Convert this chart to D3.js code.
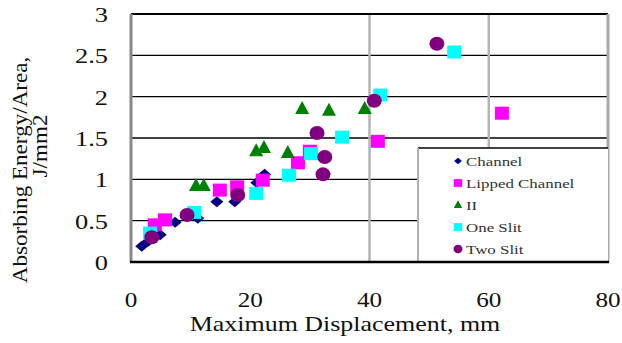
<!DOCTYPE html>
<html>
<head>
<meta charset="utf-8">
<script src="https://cdn.jsdelivr.net/npm/d3@7"></script>
<style>
  body { margin: 0; background: #fff; }
  svg text { font-family: 'Liberation Serif', 'Times New Roman', Times, serif; }
</style>
</head>
<body>
<div id="chart"></div>
<script>
// data (x = max displacement mm, y = J/mm2)
const channelX = [1.8, 2.9, 4.9, 7.4, 11.2, 14.4, 17.4, 21.1, 22.4];
const channelY = [0.19, 0.25, 0.33, 0.48, 0.53, 0.73, 0.73, 0.96, 1.06];
const lippedX = [4.0, 5.7, 14.9, 17.8, 22.1, 28.0, 30.0, 41.4, 62.2];
const lippedY = [0.45, 0.51, 0.87, 0.91, 0.99, 1.20, 1.34, 1.46, 1.80];
const iiX = [10.9, 12.2, 21.0, 22.3, 26.3, 28.7, 33.2, 39.2];
const iiY = [0.92, 0.92, 1.34, 1.38, 1.32, 1.85, 1.83, 1.85];
const oneSlitX = [3.2, 10.6, 21.0, 26.5, 30.2, 35.4, 41.8, 54.2];
const oneSlitY = [0.35, 0.60, 0.83, 1.05, 1.31, 1.51, 2.02, 2.54];
const twoSlitX = [3.5, 9.4, 17.9, 32.2, 32.5, 31.2, 40.8, 51.3];
const twoSlitY = [0.30, 0.57, 0.81, 1.06, 1.27, 1.56, 1.95, 2.64];

const seriesNames = ["Channel", "Lipped Channel", "II", "One Slit", "Two Slit"];
const seriesColors = ["#000080", "#ff00ff", "#008000", "#00ffff", "#800080"];
const seriesShapes = ["diamond", "square", "triangle", "square", "circle"];
const xTicks = [0, 20, 40, 60, 80];
const yTicks = [0, 0.5, 1, 1.5, 2, 2.5, 3];
const xGrid = [40, 60];

const width = 622, height = 343;
const plot = { left: 131, right: 608, top: 14, bottom: 262 };
const stretch = 1.2; // text in the picture is wider than it is tall

const series = [
  [channelX, channelY], [lippedX, lippedY], [iiX, iiY],
  [oneSlitX, oneSlitY], [twoSlitX, twoSlitY]
].map(([xs, ys], i) => ({
  name: seriesNames[i],
  color: seriesColors[i],
  shape: seriesShapes[i],
  points: xs.map((x, j) => ({ x, y: ys[j] }))
}));

const x = d3.scaleLinear().domain([0, 80]).range([plot.left, plot.right]);
const y = d3.scaleLinear().domain([0, 3]).range([plot.bottom, plot.top]);

const svg = d3.select("#chart").append("svg")
  .attr("width", width)
  .attr("height", height);

// draw a marker shape centered at 0,0
function marker(g, shape, color, k) {
  if (shape === "square") {
    g.append("rect").attr("x", -7 * k).attr("y", -6.5 * k)
      .attr("width", 14 * k).attr("height", 13 * k).attr("fill", color);
  } else if (shape === "circle") {
    g.append("ellipse").attr("rx", 7.5 * k).attr("ry", 7 * k).attr("fill", color);
  } else if (shape === "triangle") {
    g.append("path").attr("d", `M0,${-8 * k}L${7 * k},${5 * k}L${-7 * k},${5 * k}Z`).attr("fill", color);
  } else {
    g.append("path").attr("d", `M0,${-5.5 * k}L${6.5 * k},0L0,${5.5 * k}L${-6.5 * k},0Z`).attr("fill", color);
  }
}

// horizontal gridlines
svg.append("g")
  .selectAll("line")
  .data(yTicks.slice(1, -1))
  .join("line")
  .attr("x1", plot.left).attr("x2", plot.right)
  .attr("y1", d => y(d)).attr("y2", d => y(d))
  .attr("stroke", "#000").attr("stroke-width", 1.3);

// vertical gridlines (only 40 and 60 show)
svg.append("g")
  .selectAll("line")
  .data(xGrid)
  .join("line")
  .attr("x1", d => x(d)).attr("x2", d => x(d))
  .attr("y1", plot.top).attr("y2", plot.bottom)
  .attr("stroke", "#b4b4b4").attr("stroke-width", 2.5);

// points
series.forEach(s => {
  svg.append("g")
    .selectAll("g")
    .data(s.points)
    .join("g")
    .attr("transform", d => `translate(${x(d.x)},${y(d.y)})`)
    .each(function () { marker(d3.select(this), s.shape, s.color, 1); });
});

// plot frame
svg.append("line").attr("x1", plot.left).attr("x2", plot.right)
  .attr("y1", plot.top).attr("y2", plot.top).attr("stroke", "#000").attr("stroke-width", 2);
svg.append("line").attr("x1", plot.right).attr("x2", plot.right)
  .attr("y1", plot.top).attr("y2", plot.bottom).attr("stroke", "#a8a8a8").attr("stroke-width", 3);

// legend
const lg = { left: 418, top: 148 };
const legend = svg.append("g");
legend.append("rect")
  .attr("x", lg.left).attr("y", lg.top)
  .attr("width", plot.right - lg.left).attr("height", plot.bottom - lg.top)
  .attr("fill", "#fff");
legend.append("line").attr("x1", lg.left).attr("x2", plot.right)
  .attr("y1", lg.top).attr("y2", lg.top).attr("stroke", "#000").attr("stroke-width", 1.5);
legend.append("line").attr("x1", lg.left).attr("x2", lg.left)
  .attr("y1", lg.top).attr("y2", plot.bottom).attr("stroke", "#b0b0b0").attr("stroke-width", 2);

const legendRow = d3.scaleLinear().domain([0, 4]).range([161, 249]);
series.forEach((s, i) => {
  const row = legend.append("g").attr("transform", `translate(458,${legendRow(i)})`);
  marker(row, s.shape, s.color, 0.6);
  row.append("text")
    .attr("transform", `translate(8,5) scale(${stretch + 0.1},1)`)
    .attr("font-size", 13)
    .attr("fill", "#333")
    .text(s.name);
});

svg.append("line").attr("x1", plot.left).attr("x2", plot.left)
  .attr("y1", plot.top).attr("y2", plot.bottom).attr("stroke", "#888").attr("stroke-width", 3);
svg.append("line").attr("x1", plot.left - 1).attr("x2", plot.right + 1)
  .attr("y1", plot.bottom).attr("y2", plot.bottom).attr("stroke", "#000").attr("stroke-width", 2.5);

// tick labels
svg.append("g")
  .selectAll("text")
  .data(yTicks)
  .join("text")
  .attr("transform", d => `translate(108,${y(d) + 8}) scale(${stretch},1)`)
  .attr("text-anchor", "end")
  .attr("font-size", 22)
  .attr("fill", "#111")
  .text(d => d);

svg.append("g")
  .selectAll("text")
  .data(xTicks)
  .join("text")
  .attr("transform", d => `translate(${x(d)},307) scale(${stretch},1)`)
  .attr("text-anchor", "middle")
  .attr("font-size", 21)
  .attr("fill", "#111")
  .text(d => d);

// axis titles
svg.append("text")
  .attr("transform", `translate(345,331) scale(1.18,1)`)
  .attr("text-anchor", "middle")
  .attr("font-size", 22)
  .attr("fill", "#111")
  .text("Maximum Displacement, mm");

svg.append("text")
  .attr("transform", "translate(27,170) rotate(-90) scale(1.1,1)")
  .attr("text-anchor", "middle")
  .attr("font-size", 21)
  .attr("fill", "#111")
  .text("Absorbing Energy/Area,");

svg.append("text")
  .attr("transform", "translate(47,146) rotate(-90) scale(1.1,1)")
  .attr("text-anchor", "middle")
  .attr("font-size", 21)
  .attr("fill", "#111")
  .text("J/mm2");
</script>
</body>
</html>
